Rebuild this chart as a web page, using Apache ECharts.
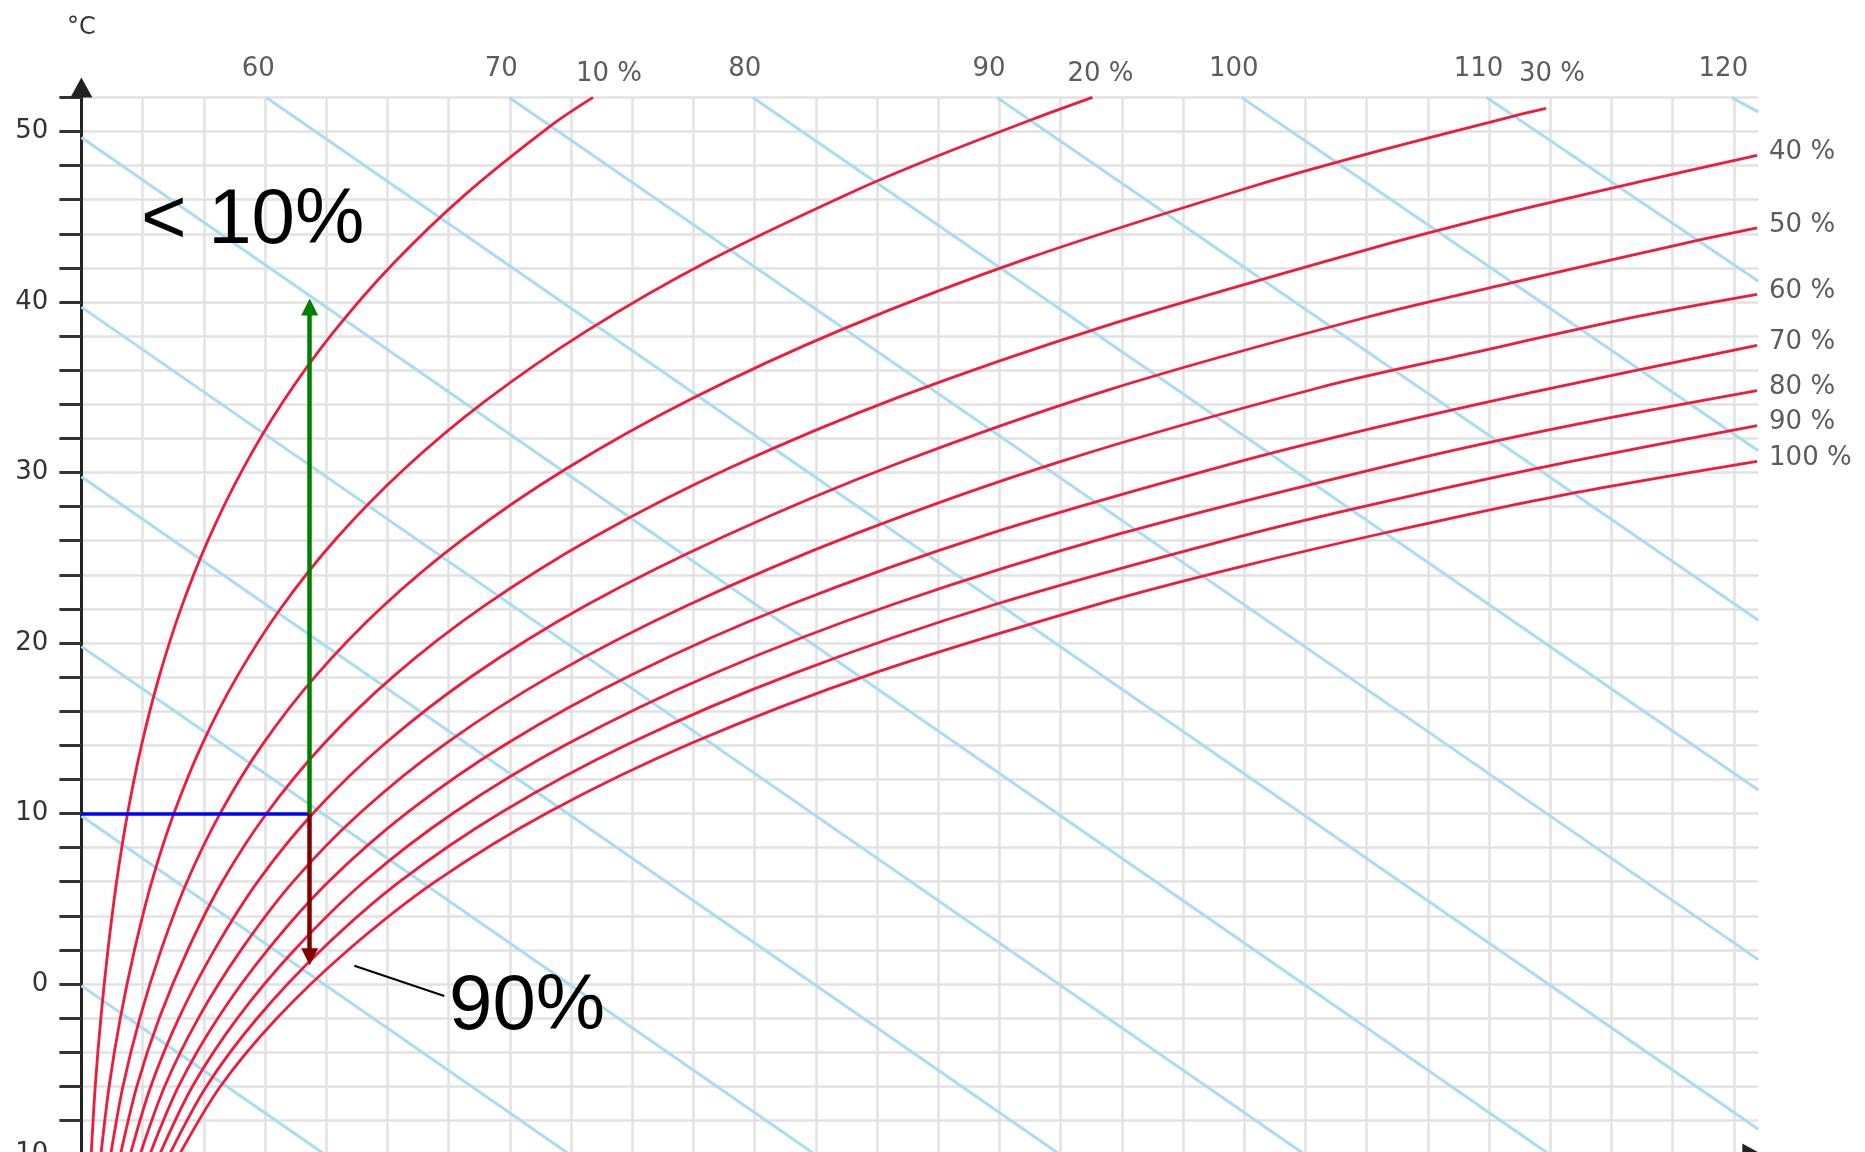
<!DOCTYPE html>
<html>
<head>
<meta charset="utf-8">
<script src="https://cdn.jsdelivr.net/npm/echarts@6/dist/echarts.min.js"></script>
<style>
html,body{margin:0;padding:0;background:#fff;}
#chart{width:1865px;height:1152px;}
</style>
</head>
<body>
<div id="chart"></div>
<script>
// ---------- data (x: g/kg, y: °C) ----------
const rhNames = ['10 %','20 %','30 %','40 %','50 %','60 %','70 %','80 %','90 %','100 %'];
const rh10 = [[0.160,-10.0],[0.226,-6.0],[0.318,-2.0],[0.434,2.0],[0.575,6.0],[0.755,10.01],[0.983,14.01],[1.270,18.02],[1.628,22.03],[2.072,26.05],[2.618,30.07],[3.286,34.1],[4.099,38.14],[5.081,42.2],[6.262,46.27],[7.677,50.36],[8.36,52.0]];
const rh20 = [[0.319,-10.0],[0.453,-6.0],[0.636,-2.0],[0.868,2.0],[1.150,6.01],[1.512,10.01],[1.969,14.03],[2.545,18.04],[3.265,22.07],[4.158,26.1],[5.258,30.15],[6.607,34.21],[8.252,38.29],[10.246,42.4],[12.652,46.54],[14.03,48.62],[15.545,50.72],[16.52,52.0]];
const rh30 = [[0.479,-10.0],[0.679,-6.0],[0.955,-2.0],[1.303,2.0],[1.727,6.01],[2.270,10.02],[2.958,14.04],[3.826,18.06],[4.910,22.1],[6.257,26.15],[7.921,30.22],[9.963,34.31],[12.461,38.44],[15.496,42.6],[19.172,46.82],[21.29,48.95],[23.612,51.09],[23.93,51.36]];
const rh40 = [[0.638,-10.01],[0.906,-6.01],[1.273,-2.0],[1.738,2.0],[2.304,6.01],[3.031,10.03],[3.951,14.05],[5.112,18.09],[6.564,22.13],[8.371,26.2],[10.606,30.29],[13.356,34.42],[16.726,38.59],[20.835,42.9],[23.21,45.15],[25.829,47.35],[27.38,48.6]];
const rh50 = [[0.798,-10.01],[1.133,-6.01],[1.592,-2.0],[2.174,2.0],[2.884,6.02],[3.793,10.04],[4.947,14.06],[6.403,18.11],[8.227,22.17],[10.499,26.25],[13.315,30.5],[16.785,34.85],[21.049,39.15],[23.52,41.25],[26.264,43.5],[27.38,44.35]];
const rh60 = [[0.958,-10.01],[1.360,-6.01],[1.911,-2.0],[2.610,2.0],[3.464,6.02],[4.557,10.04],[5.946,14.08],[7.699,18.13],[9.898,22.2],[12.642,26.4],[16.047,30.7],[20.251,35.0],[22.71,37.0],[25.430,39.15],[27.38,40.45]];
const rh70 = [[1.117,-10.01],[1.587,-6.01],[2.231,-2.0],[3.047,2.01],[4.045,6.02],[5.323,10.05],[6.948,14.09],[9.001,18.15],[11.579,22.24],[14.799,26.36],[18.802,30.52],[21.14,32.63],[23.756,34.75],[27.38,37.45]];
const rh80 = [[1.277,-10.01],[1.814,-6.01],[2.550,-2.0],[3.484,2.01],[4.628,6.03],[6.090,10.06],[7.953,14.1],[10.308,18.17],[13.268,22.27],[16.971,26.41],[21.581,30.6],[24.28,32.72],[27.38,34.8]];
const rh90 = [[1.438,-10.01],[2.042,-6.01],[2.872,-2.01],[3.923,2.01],[5.211,6.03],[6.860,10.06],[8.961,14.12],[11.621,18.19],[14.967,22.3],[19.158,26.46],[21.63,28.56],[24.383,30.68],[27.38,32.75]];
const rh100 = [[1.600,-10.01],[2.270,-6.01],[3.194,-2.01],[4.364,2.01],[5.795,6.03],[7.631,10.07],[9.973,14.13],[12.939,18.22],[16.674,22.34],[18.88,24.42],[21.359,26.51],[24.12,28.62],[27.38,30.65]];

// enthalpy lines (kJ/kg): start point (left / top) and end point (bottom / right)
const enthalpyValues = [0,10,20,30,40,50,60,70,80,90,100,110,120];
const enthalpyStart = [[0,-0.1],[0,9.85],[0,19.8],[0,29.75],[0,39.7],[0,49.65],[3.02,52],[6.99,52],[10.97,52],[14.96,52],[18.96,52],[22.96,52],[26.96,52]];
const enthalpyEnd = [[3.98,-10],[7.98,-10],[11.99,-10],[15.99,-10],[19.99,-10],[23.99,-10],[27.4,-8.52],[27.4,1.43],[27.4,11.38],[27.4,21.33],[27.4,31.28],[27.4,41.22],[27.4,51.15]];
const enthalpyTopLabels = ['60','70','80','90','100','110','120'];

// state change annotation
const stateX = 3.73;     // g/kg
const stateT = 10;       // °C
const heatedT = 39.7;    // arrow up end
const cooledT = 1.6;     // arrow down end
const leader = [[4.46,1.07],[5.93,-0.70]];
const annoHeated = '< 10%';
const annoCooled = '90%';

// axis ranges / ticks
const xMin = 0, xMax = 27.4, xStep = 1;
const yMin = -10, yMax = 52, yStep = 2, yLabelStep = 10;
const yAxisTitle = '°C';

// ---------- styling ----------
const RED = '#f01a3a';
const BLUE_H = '#a9ddf1';
const GRID = '#e2e2e2';
const TXT = '#333';
const FONT = 'DejaVu Sans';
const rhLabelStyle = [
  {offset:[16,-23]}, {offset:[8,-23]}, {offset:[6,-34]},
  {align:'left',offset:[12,-3]},{align:'left',offset:[12,-3]},{align:'left',offset:[12,-3]},
  {align:'left',offset:[12,-3]},{align:'left',offset:[12,-3]},{align:'left',offset:[12,-3]},
  {align:'left',offset:[12,-3]}
];

const rhCurves = [rh10,rh20,rh30,rh40,rh50,rh60,rh70,rh80,rh90,rh100];

const chart = echarts.init(document.getElementById('chart'), null, {renderer:'canvas'});

const series = [];
// enthalpy lines
series.push({
  type:'lines', coordinateSystem:'cartesian2d', silent:true, z:2,
  lineStyle:{color:BLUE_H, width:3, opacity:1},
  symbol:'none',
  data: enthalpyValues.map((h,i)=>({name:String(h), coords:[enthalpyStart[i], enthalpyEnd[i]]}))
});
// relative humidity curves
rhCurves.forEach((d,i)=>{
  series.push({
    type:'line', name:rhNames[i], data:d, showSymbol:false, symbol:'none',
    smooth:0.3, silent:true, z:3,
    lineStyle:{color:RED, width:2.8}
  });
});
// blue horizontal
series.push({
  type:'lines', coordinateSystem:'cartesian2d', silent:true, z:5, symbol:'none',
  lineStyle:{color:'#0000ff', width:3.5, opacity:1},
  data:[{coords:[[0,stateT],[stateX,stateT]]}]
});
// heating arrow
series.push({
  type:'lines', coordinateSystem:'cartesian2d', silent:true, z:6,
  symbol:['none','triangle'], symbolSize:17,
  lineStyle:{color:'#008000', width:4.5, opacity:1},
  data:[{coords:[[stateX,stateT],[stateX,heatedT]]}]
});
// cooling arrow
series.push({
  type:'lines', coordinateSystem:'cartesian2d', silent:true, z:6,
  symbol:['none','triangle'], symbolSize:17,
  lineStyle:{color:'#800000', width:4.5, opacity:1},
  data:[{coords:[[stateX,stateT],[stateX,cooledT]]}]
});
// leader line
series.push({
  type:'lines', coordinateSystem:'cartesian2d', silent:true, z:6, symbol:'none',
  lineStyle:{color:'#000', width:2, opacity:1},
  data:[{coords:leader}]
});
// labels: enthalpy values at top
const labelBase = {show:true, position:'inside', formatter:'{b}', color:TXT, fontFamily:FONT, fontSize:26};
series.push({
  type:'scatter', silent:true, z:7, symbolSize:1, itemStyle:{color:'rgba(0,0,0,0)'},
  label:labelBase,
  data: enthalpyTopLabels.map((t,i)=>({name:t, value:enthalpyStart[6+i], label:{offset:[-8,-28]}}))
});
// labels: relative humidity
series.push({
  type:'scatter', silent:true, z:7, symbolSize:1, itemStyle:{color:'rgba(0,0,0,0)'},
  label:labelBase,
  data: rhCurves.map((d,i)=>({name:rhNames[i], value:d[d.length-1], label:rhLabelStyle[i]}))
});

const option = {
  backgroundColor:'#fff',
  animation:false,
  grid:{left:81.4, top:97.4, width:1676.9, height:1057.1, containLabel:false, outerBoundsMode:'none'},
  xAxis:{
    type:'value', min:xMin, max:xMax, interval:xStep,
    axisLine:{show:true, onZero:false, symbol:['none','triangle'], symbolSize:[22,20], symbolOffset:[0,-6], lineStyle:{color:'#222', width:3}},
    axisTick:{show:false}, axisLabel:{show:false},
    splitLine:{show:true, showMinLine:false, showMaxLine:false, lineStyle:{color:GRID, width:2.5}}
  },
  yAxis:{
    type:'value', min:yMin, max:yMax, interval:yStep,
    name:yAxisTitle, nameLocation:'end', nameGap:58,
    nameTextStyle:{color:TXT, fontFamily:FONT, fontSize:24},
    axisLine:{show:true, onZero:false, symbol:['none','triangle'], symbolSize:[22,20], symbolOffset:[0,10], lineStyle:{color:'#222', width:3}},
    axisTick:{show:true, length:22, interval:0, lineStyle:{color:'#333', width:3}},
    axisLabel:{show:true, interval:0, margin:33, color:TXT, fontFamily:FONT, fontSize:26,
      formatter:(v)=> (Math.round(v)%yLabelStep===0 ? String(Math.round(v)) : '')},
    splitLine:{show:true, showMaxLine:true, lineStyle:{color:GRID, width:2.5}}
  },
  graphic:[
    {type:'text', x:141, y:221, z:10, silent:true,
     style:{text:annoHeated, fontSize:78, fontFamily:'Liberation Sans', fill:'#000', align:'left', verticalAlign:'middle'}},
    {type:'text', x:449, y:1007.5, z:10, silent:true,
     style:{text:annoCooled, fontSize:78, fontFamily:'Liberation Sans', fill:'#000', align:'left', verticalAlign:'middle'}}
  ],
  series:series
};
chart.setOption(option);
</script>
</body>
</html>
